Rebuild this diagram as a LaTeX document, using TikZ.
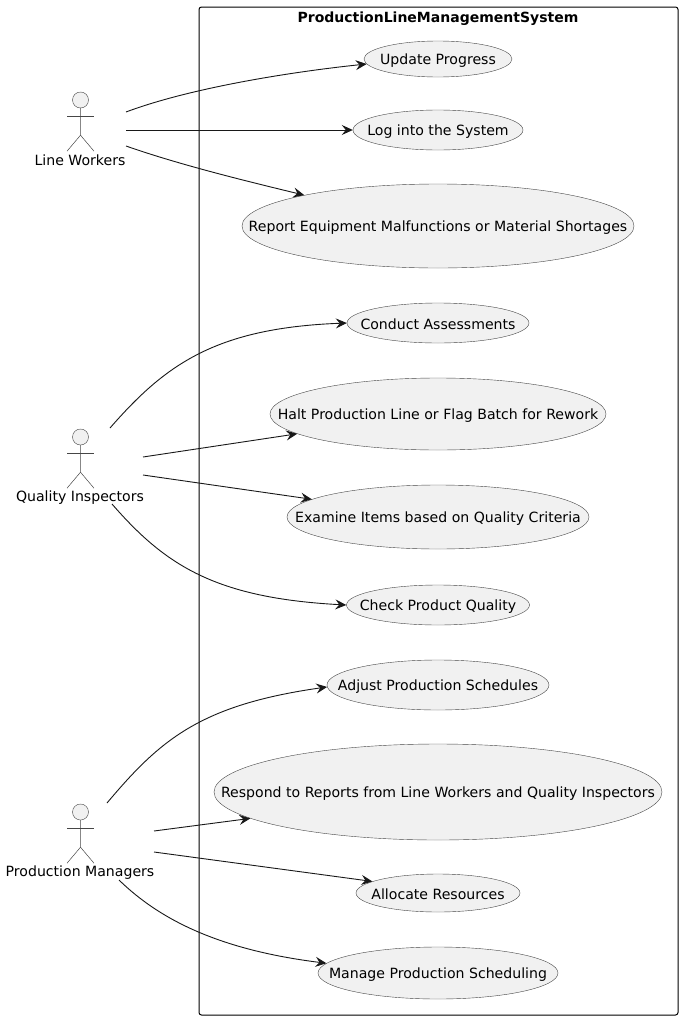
\documentclass[tikz,border=0pt]{standalone}
\usepackage{fontspec}
\setmainfont{DejaVu Sans}
\usetikzlibrary{arrows.meta,shapes.geometric}
\definecolor{umlfill}{HTML}{F1F1F1}
\definecolor{umlline}{HTML}{181818}
\tikzstyle{usecase}=[ellipse,draw=umlline!80,line width=0.4pt,fill=umlfill,inner sep=0pt]
\tikzstyle{head}=[circle,draw=umlline!80,line width=0.4pt,fill=umlfill,minimum size=16pt,inner sep=0pt]
\tikzstyle{limb}=[draw=umlline!80,line width=0.5pt]
\tikzstyle{actorname}=[inner sep=0pt,font=\fontsize{14.1}{16}\selectfont]
\tikzstyle{edge}=[draw=umlline,line width=0.9pt,-{Stealth[length=11pt,width=10pt,inset=4pt]}]

\begin{document}
\begin{tikzpicture}[x=1pt,y=-1pt]
    \useasboundingbox (0,0) rectangle (682,1020);
    % The system frame and its title
    \node[draw=black,line width=1pt,rounded corners=2.5pt,minimum width=479pt,minimum height=1008pt,inner sep=0pt] (system) at (438.5,511) {};
    \node[inner sep=0pt,font=\fontsize{14}{16}\selectfont\bfseries] (title) at (438,19) {ProductionLineManagementSystem};
    % First we draw the use cases
    \foreach \y/\w/\h/\name/\txt in {59/148/36/update/Update Progress,
                                     130/170/40/login/Log into the System,
                                     226/392/84/report/Report Equipment Malfunctions or Material Shortages,
                                     323/182/40/conduct/Conduct Assessments,
                                     414/336/72/halt/Halt Production Line or Flag Batch for Rework,
                                     517/302/64/examine/Examine Items based on Quality Criteria,
                                     605/183/40/check/Check Product Quality,
                                     685/222/50/adjust/Adjust Production Schedules,
                                     792/448/96/respond/Respond to Reports from Line Workers and Quality Inspectors,
                                     893/164/38/allocate/Allocate Resources,
                                     973/240/52/manage/Manage Production Scheduling}
        \node[usecase,minimum width=\w pt,minimum height=\h pt,
              label={[inner sep=0pt,yshift=-1.5pt,font=\fontsize{14.1}{16}\selectfont]center:\txt}] (\name) at (438,\y) {};
    % Then the actors, head first
    \foreach \y/\name/\who in {100/workers/Line Workers, 437/inspectors/Quality Inspectors, 812/managers/Production Managers} {
        \node[head] (\name head) at (80.5,\y) {};
        \path[limb] (\name head.south) -- ++(0,27) -- ++(-13.5,16);
        \path[limb] (\name head.south) ++(0,27) -- ++(13.5,16);
        \path[limb] (\name head.south) ++(-13.5,8.5) -- ++(27,0);
        \node[actorname] (\name) at (80,\y+60.5) {\who};
    }
    % Free ends of the connectors beside the actors
    \foreach \x/\y/\name in {126/112/wa, 126/130/wb, 126/146/wc,
                             110/428/qa, 143/457/qb, 143/475/qc, 112/504/qd,
                             107/803/ma, 154/831/mb, 154/852/mc, 119/880/md}
        \coordinate (\name) at (\x,\y);
    % Connect them with the use cases
    \foreach \source/\dest/\ang in {wb/login/180, qb/halt/188, qc/examine/172, mb/respond/188, mc/allocate/170}
        \path[edge] (\source) -- (\dest.\ang);
    \path[edge] (wa) .. controls (190,88) and (290,72) .. (update.184.3);
    \path[edge] (wc) .. controls (180,165) and (250,182) .. (report.167.3);
    \path[edge] (qa) .. controls (165,365) and (215,328) .. (conduct.180);
    \path[edge] (qd) .. controls (165,565) and (215,598) .. (check.180);
    \path[edge] (ma) .. controls (160,740) and (200,705) .. (adjust.181.6);
    \path[edge] (md) .. controls (160,920) and (220,950) .. (manage.175.4);
\end{tikzpicture}
\end{document}
